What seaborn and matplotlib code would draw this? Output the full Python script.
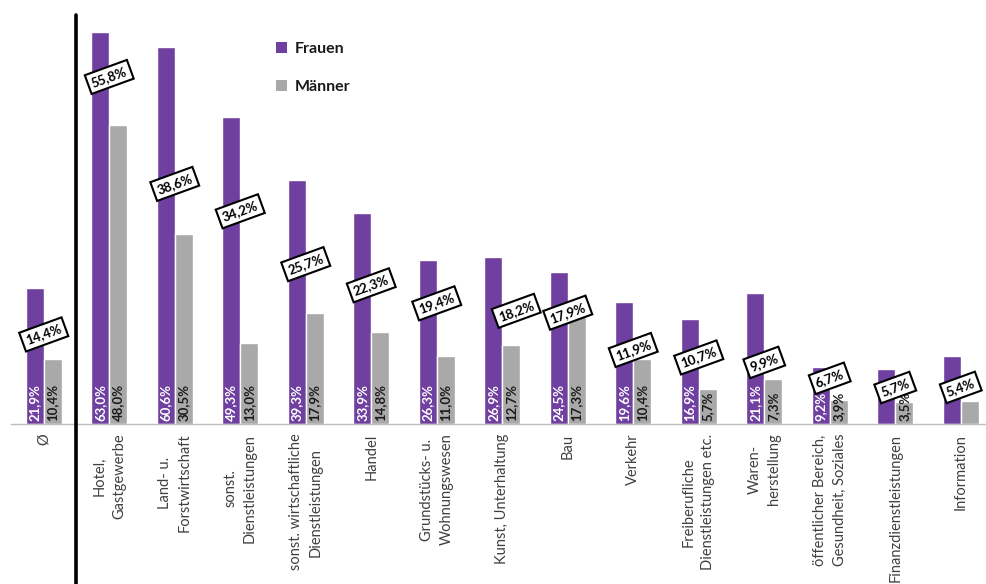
import numpy as np
import pandas as pd
import matplotlib
matplotlib.use("Agg")
import matplotlib.pyplot as plt
from matplotlib.patches import Patch
import seaborn as sns

# Branchen (x-axis categories)
categories = [
    "Ø",
    "Hotel,\nGastgewerbe",
    "Land- u.\nForstwirtschaft",
    "sonst.\nDienstleistungen",
    "sonst. wirtschaftliche\nDienstleistungen",
    "Handel",
    "Grundstücks- u.\nWohnungswesen",
    "Kunst, Unterhaltung",
    "Bau",
    "Verkehr",
    "Freiberufliche\nDienstleistungen etc.",
    "Waren-\nherstellung",
    "öffentlicher Bereich,\nGesundheit, Soziales",
    "Finanzdienstleistungen",
    "Information",
]
frauen = [21.9, 63.0, 60.6, 49.3, 39.3, 33.9, 26.3, 26.9, 24.5, 19.6, 16.9, 21.1, 9.2, 8.8, 10.9]
maenner = [10.4, 48.0, 30.5, 13.0, 17.9, 14.8, 11.0, 12.7, 17.3, 10.4, 5.7, 7.3, 3.9, 3.5, 3.7]
# Differenz Frauen/Männer (boxed labels)
gap = [14.4, 55.8, 38.6, 34.2, 25.7, 22.3, 19.4, 18.2, 17.9, 11.9, 10.7, 9.9, 6.7, 5.7, 5.4]

# which in-bar value labels are printed
show_frauen = [True] * 13 + [False, False]
show_maenner = [True] * 14 + [False]

# small pixel nudges for the boxed labels (dx, dy)
box_nudge = {7: (14, 0), 12: (0, 4), 13: (0, 1), 14: (0, 3)}

PURPLE = "#7040A0"
GRAY = "#A9A9A9"
FONT = ["Lato", "DejaVu Sans"]

sns.set_style("white")
plt.rcParams["font.family"] = FONT

df = pd.DataFrame({
    "Branche": categories * 2,
    "Wert": frauen + maenner,
    "Geschlecht": ["Frauen"] * len(categories) + ["Männer"] * len(categories),
})

W, H = 987, 584
fig = plt.figure(figsize=(W / 100, H / 100), dpi=100)
ax = fig.add_axes([11 / W, 160 / H, 976 / W, 424 / H])

sns.barplot(data=df, x="Branche", y="Wert", hue="Geschlecht",
            palette={"Frauen": PURPLE, "Männer": GRAY},
            width=0.55, gap=0, saturation=1, errorbar=None, ax=ax, legend=False)

ax.set_xlim(-0.5, -0.5 + 976 / 65.5)
ax.set_ylim(0, 68.17)
ax.set_xlabel("")
ax.set_ylabel("")
ax.set_yticks([])

for s in ["top", "right", "left"]:
    ax.spines[s].set_visible(False)
ax.spines["bottom"].set_color("#BFBFBF")
ax.spines["bottom"].set_linewidth(1.0)

ax.set_xticks(range(len(categories)))
ax.set_xticklabels(categories, rotation=90, fontsize=10.5, color="#404040",
                   linespacing=1.5, ha="center", va="top", multialignment="center")
ax.tick_params(axis="x", which="major", length=0, pad=7)
ax.set_xticks(np.arange(0.5, len(categories) - 0.5, 1), minor=True)
ax.tick_params(axis="x", which="minor", length=5, width=1, color="#BFBFBF", direction="out")

# in-bar value labels
bw = 0.55 / 2
for i in range(len(categories)):
    if show_frauen[i]:
        ax.text(i - bw / 2, 0.5, f"{frauen[i]:.1f}%".replace(".", ","), rotation=90,
                ha="center", va="bottom", fontsize=9.5, fontweight="bold", color="white", zorder=4)
    if show_maenner[i]:
        ax.text(i + bw / 2, 0.5, f"{maenner[i]:.1f}%".replace(".", ","), rotation=90,
                ha="center", va="bottom", fontsize=9.5, fontweight="bold", color="#1A1A1A", zorder=4)

# boxed difference labels
for i, g in enumerate(gap):
    dx, dy = box_nudge.get(i, (0, 0))
    ax.annotate(f"{g:.1f}%".replace(".", ","), xy=(i, g), xytext=(dx * 0.72, dy * 0.72),
                textcoords="offset points", rotation=20, ha="center", va="center",
                fontsize=9.5, fontweight="bold", color="black", zorder=6,
                bbox=dict(boxstyle="square,pad=0.3", fc="white", ec="black", lw=1.5))

# separator between the average and the branches
ax.axvline(0.5, ymin=-160 / 424, ymax=(424 - 15) / 424, color="black", lw=2.6,
           clip_on=False, zorder=5)

handles = [Patch(facecolor=PURPLE, edgecolor="none", label="Frauen"),
           Patch(facecolor=GRAY, edgecolor="none", label="Männer")]
fig.legend(handles=handles, loc="upper left", bbox_to_anchor=(262 / W, 1 - 28 / H),
           frameon=False, handlelength=0.65, handleheight=0.65, handletextpad=0.5,
           labelspacing=1.5, prop={"family": FONT, "weight": "bold", "size": 11.5},
           labelcolor="#1A1A1A")

fig.savefig("out.png", dpi=100)
